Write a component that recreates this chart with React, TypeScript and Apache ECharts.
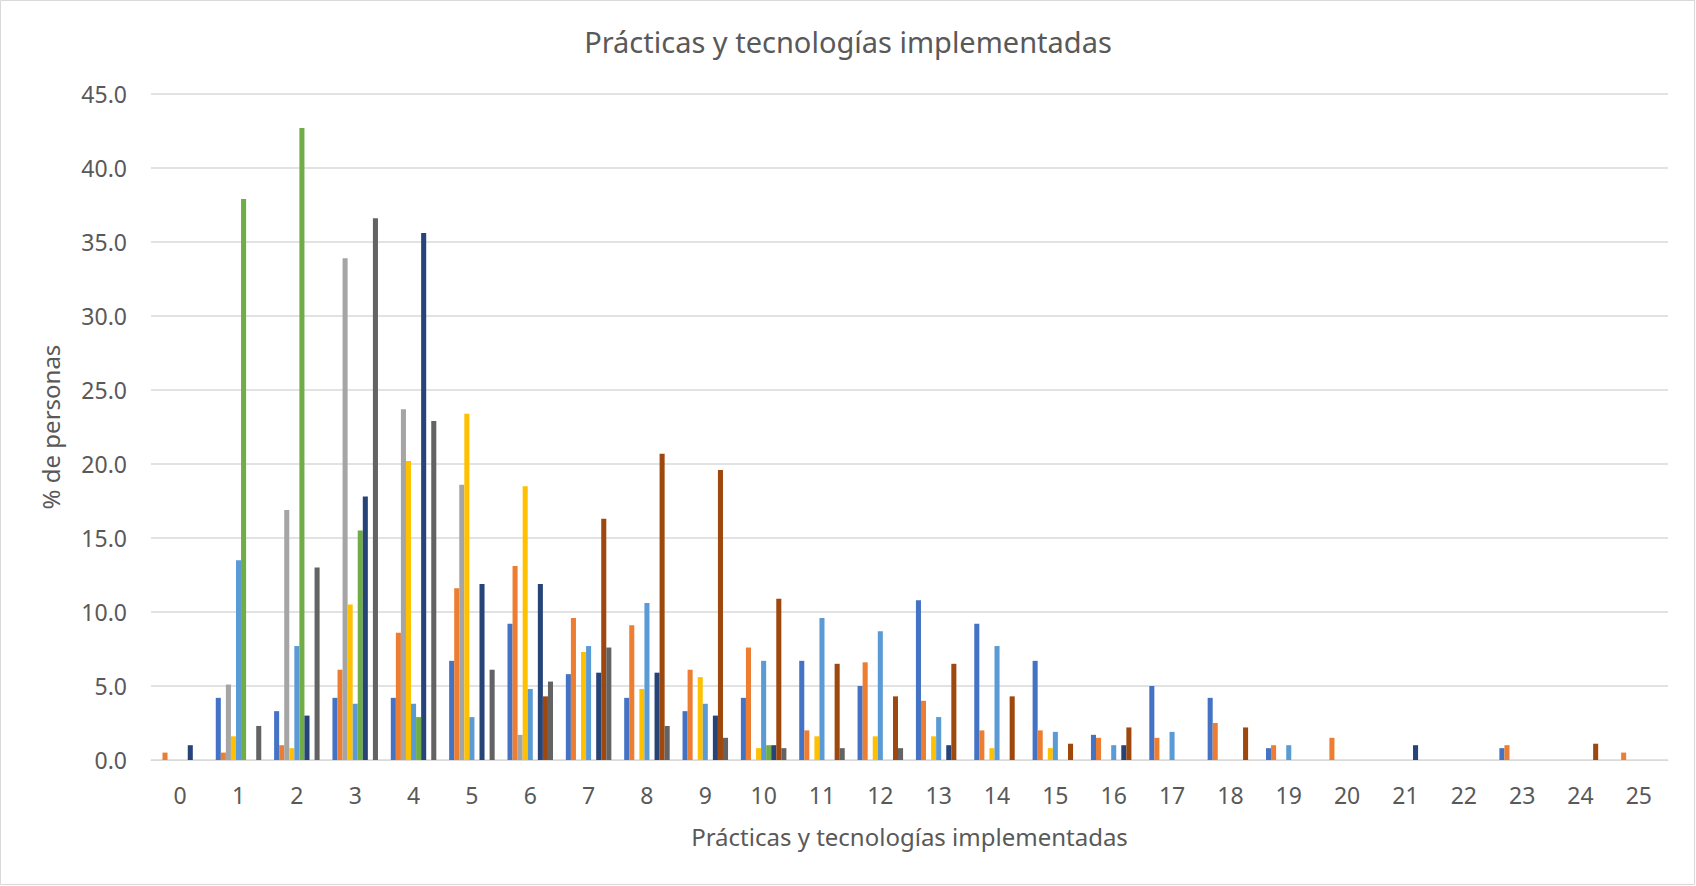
import React, { useEffect, useRef } from "react";
import * as echarts from "echarts";

const categories = ["0","1","2","3","4","5","6","7","8","9","10","11","12","13","14","15","16","17","18","19","20","21","22","23","24","25"];

const serie1 = [0, 4.2, 3.3, 4.2, 4.2, 6.7, 9.2, 5.8, 4.2, 3.3, 4.2, 6.7, 5.0, 10.8, 9.2, 6.7, 1.7, 5.0, 4.2, 0.8, 0, 0, 0, 0.8, 0, 0];
const serie2 = [0.5, 0.5, 1.0, 6.1, 8.6, 11.6, 13.1, 9.6, 9.1, 6.1, 7.6, 2.0, 6.6, 4.0, 2.0, 2.0, 1.5, 1.5, 2.5, 1.0, 1.5, 0, 0, 1.0, 0, 0.5];
const serie3 = [0, 5.1, 16.9, 33.9, 23.7, 18.6, 1.7, 0, 0, 0, 0, 0, 0, 0, 0, 0, 0, 0, 0, 0, 0, 0, 0, 0, 0, 0];
const serie4 = [0, 1.6, 0.8, 10.5, 20.2, 23.4, 18.5, 7.3, 4.8, 5.6, 0.8, 1.6, 1.6, 1.6, 0.8, 0.8, 0, 0, 0, 0, 0, 0, 0, 0, 0, 0];
const serie5 = [0, 13.5, 7.7, 3.8, 3.8, 2.9, 4.8, 7.7, 10.6, 3.8, 6.7, 9.6, 8.7, 2.9, 7.7, 1.9, 1.0, 1.9, 0, 1.0, 0, 0, 0, 0, 0, 0];
const serie6 = [0, 37.9, 42.7, 15.5, 2.9, 0, 0, 0, 0, 0, 1.0, 0, 0, 0, 0, 0, 0, 0, 0, 0, 0, 0, 0, 0, 0, 0];
const serie7 = [1.0, 0, 3.0, 17.8, 35.6, 11.9, 11.9, 5.9, 5.9, 3.0, 1.0, 0, 0, 1.0, 0, 0, 1.0, 0, 0, 0, 0, 1.0, 0, 0, 0, 0];
const serie8 = [0, 0, 0, 0, 0, 0, 4.3, 16.3, 20.7, 19.6, 10.9, 6.5, 4.3, 6.5, 4.3, 1.1, 2.2, 0, 2.2, 0, 0, 0, 0, 0, 1.1, 0];
const serie9 = [0, 2.3, 13.0, 36.6, 22.9, 6.1, 5.3, 7.6, 2.3, 1.5, 0.8, 0.8, 0.8, 0, 0, 0, 0, 0, 0, 0, 0, 0, 0, 0, 0, 0];

const seriesNames = ["Serie 1", "Serie 2", "Serie 3", "Serie 4", "Serie 5", "Serie 6", "Serie 7", "Serie 8", "Serie 9"];
const seriesData = [serie1, serie2, serie3, serie4, serie5, serie6, serie7, serie8, serie9];
const colors = ["#4472C4", "#ED7D31", "#A5A5A5", "#FFC000", "#5B9BD5", "#70AD47", "#264478", "#9E480E", "#636363"];

const FONT = "'Noto Sans', sans-serif";
const TXT = "#595959";

export default function App() {
  const ref = useRef<HTMLDivElement>(null);
  useEffect(() => {
    document.body.style.margin = "0";
    const chart = echarts.init(ref.current!, undefined, { renderer: "svg" });
    chart.setOption({
      animation: false,
      backgroundColor: "#ffffff",
      title: {
        text: "Prácticas y tecnologías implementadas",
        left: "center",
        top: 22,
        textStyle: { fontFamily: FONT, fontSize: 29, fontWeight: "normal", color: TXT },
      },
      graphic: [
        {
          type: "rect",
          shape: { x: 0.5, y: 0.5, width: 1694, height: 884 },
          style: { fill: "none", stroke: "#d9d9d9", lineWidth: 1 },
          silent: true,
        },
      ],
      grid: { left: 151, right: 28, top: 94, bottom: 126, containLabel: false },
      xAxis: {
        type: "category",
        data: categories,
        name: "Prácticas y tecnologías implementadas",
        nameLocation: "middle",
        nameGap: 64,
        nameTextStyle: { fontFamily: FONT, fontSize: 24, color: TXT },
        axisLine: { lineStyle: { color: "#d9d9d9", width: 1 } },
        axisTick: { show: false },
        axisLabel: { fontFamily: FONT, fontSize: 23, color: TXT, margin: 23 },
      },
      yAxis: {
        type: "value",
        min: 0,
        max: 45,
        interval: 5,
        name: "% de personas",
        nameLocation: "middle",
        nameGap: 89,
        nameTextStyle: { fontFamily: FONT, fontSize: 24, color: TXT },
        axisLabel: {
          fontFamily: FONT,
          fontSize: 23,
          color: TXT,
          margin: 24,
          formatter: (v: number) => v.toFixed(1),
        },
        splitLine: { lineStyle: { color: "#d9d9d9", width: 1.5 } },
        axisLine: { show: false },
        axisTick: { show: false },
      },
      series: seriesData.map((d, i) => ({
        name: seriesNames[i],
        type: "bar",
        data: d,
        barGap: "0%",
        barCategoryGap: "22%",
        itemStyle: { color: colors[i] },
      })),
    });
    return () => chart.dispose();
  }, []);
  return <div ref={ref} style={{ position: "absolute", left: 0, top: 0, width: 1696, height: 886 }} />;
}
